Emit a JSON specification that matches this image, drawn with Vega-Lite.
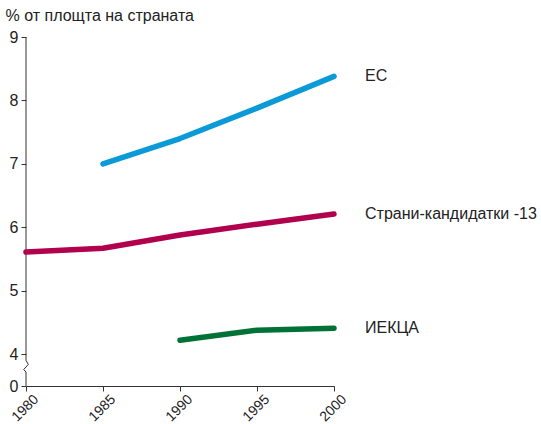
{
  "$schema": "https://vega.github.io/schema/vega-lite/v6.json",
  "width": 308,
  "height": 349,
  "autosize": "none",
  "padding": {"left": 26, "top": 37, "right": 207, "bottom": 38},
  "config": {
    "view": {"stroke": null},
    "font": "Liberation Sans",
    "axis": {"labelFont": "Liberation Sans", "titleFont": "Liberation Sans", "labelColor": "#222", "domainColor": "#333", "tickColor": "#333", "grid": false, "labelFontSize": 16, "tickSize": 5}
  },
  "datasets": {
    "series": [
      {"year": 1985, "value": 7.0, "region": "ЕС"},
      {"year": 1990, "value": 7.4, "region": "ЕС"},
      {"year": 1995, "value": 7.88, "region": "ЕС"},
      {"year": 2000, "value": 8.38, "region": "ЕС"},
      {"year": 1980, "value": 5.61, "region": "Страни-кандидатки -13"},
      {"year": 1985, "value": 5.67, "region": "Страни-кандидатки -13"},
      {"year": 1990, "value": 5.88, "region": "Страни-кандидатки -13"},
      {"year": 1995, "value": 6.05, "region": "Страни-кандидатки -13"},
      {"year": 2000, "value": 6.21, "region": "Страни-кандидатки -13"},
      {"year": 1990, "value": 4.22, "region": "ИЕКЦА"},
      {"year": 1995, "value": 4.38, "region": "ИЕКЦА"},
      {"year": 2000, "value": 4.41, "region": "ИЕКЦА"}
    ],
    "axisline": [
      {"i": 1, "year": 1980, "value": 9},
      {"i": 2, "year": 1980, "value": 3.905},
      {"i": 3, "year": 1980.15, "value": 3.84},
      {"i": 4, "year": 1979.85, "value": 3.76},
      {"i": 5, "year": 1980, "value": 3.72},
      {"i": 6, "year": 1980, "value": 3.5}
    ]
  },
  "layer": [
    {
      "data": {"name": "axisline"},
      "mark": {"type": "line", "color": "#333", "strokeWidth": 1, "clip": false},
      "encoding": {
        "x": {"field": "year", "type": "quantitative"},
        "y": {"field": "value", "type": "quantitative"},
        "order": {"field": "i"}
      }
    },
    {
      "data": {"name": "series"},
      "mark": {"type": "line", "strokeWidth": 5.5, "strokeCap": "round", "strokeJoin": "round"},
      "encoding": {
        "x": {
          "field": "year", "type": "quantitative",
          "scale": {"domain": [1980, 2000], "nice": false, "zero": false},
          "axis": {"values": [1980, 1985, 1990, 1995, 2000], "format": "d", "labelAngle": -45, "labelAlign": "right", "labelBaseline": "top", "labelPadding": 1, "labelOffset": 5, "labelFontSize": 14, "labelOverlap": false, "title": null}
        },
        "y": {
          "field": "value", "type": "quantitative",
          "scale": {"domain": [3.5, 9], "nice": false, "zero": false},
          "axis": {
            "values": [3.5, 4, 5, 6, 7, 8, 9],
            "labelExpr": "datum.value == 3.5 ? '0' : format(datum.value, 'd')",
            "labelOverlap": false,
            "labelPadding": 3,
            "domain": false,
            "title": "% от площта на страната",
            "titleAngle": 0, "titleAlign": "left", "titleBaseline": "alphabetic",
            "titleX": -21, "titleY": -17, "titleFontSize": 16, "titleFontWeight": "normal", "titleColor": "#222"
          }
        },
        "color": {
          "field": "region", "type": "nominal",
          "scale": {"domain": ["ЕС", "Страни-кандидатки -13", "ИЕКЦА"], "range": ["#0a9ad8", "#b0004e", "#007238"]},
          "legend": null
        }
      }
    },
    {
      "data": {"name": "series"},
      "transform": [{"filter": "datum.year == 2000"}],
      "mark": {"type": "text", "align": "left", "baseline": "middle", "dx": 31, "fontSize": 16, "color": "#222"},
      "encoding": {
        "x": {"field": "year", "type": "quantitative"},
        "y": {"field": "value", "type": "quantitative"},
        "text": {"field": "region"}
      }
    }
  ]
}
